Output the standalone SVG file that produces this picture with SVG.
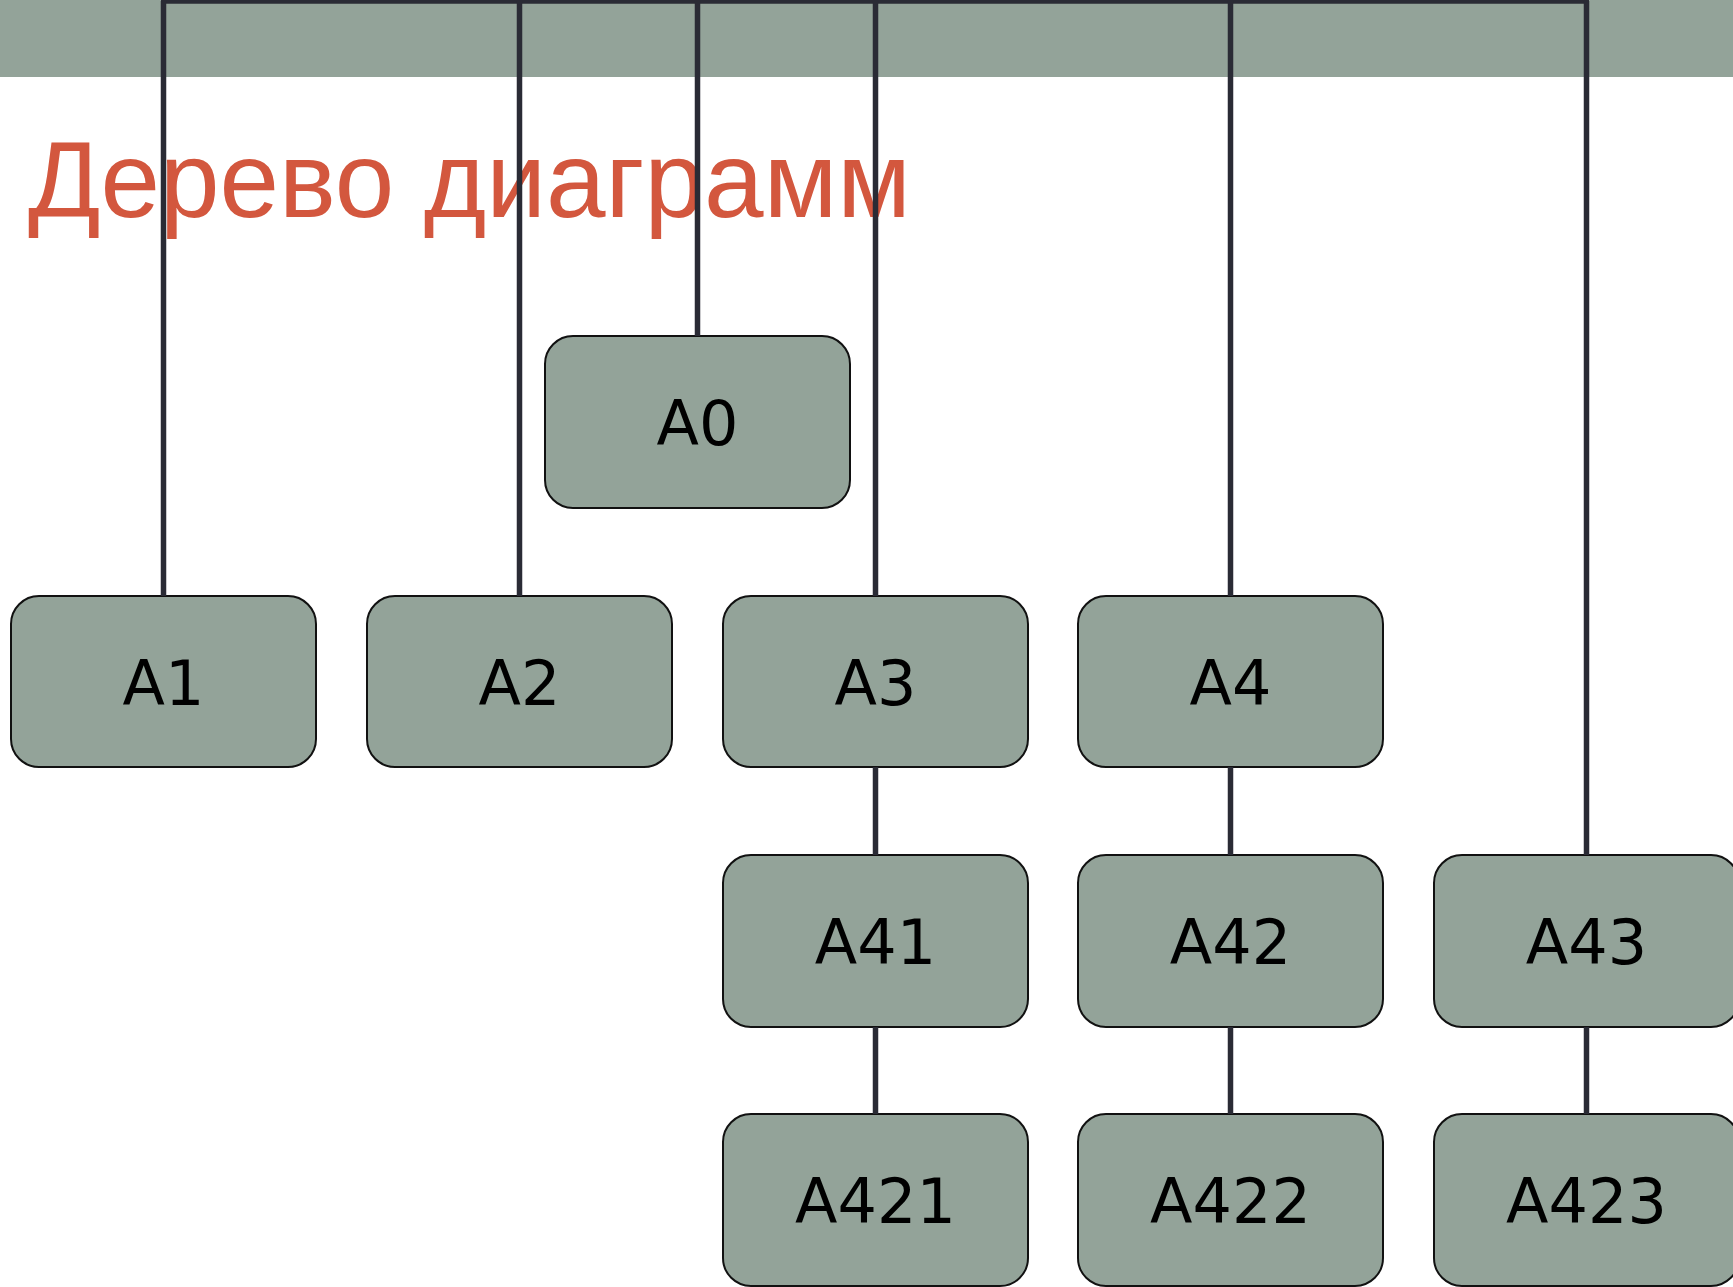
<svg xmlns="http://www.w3.org/2000/svg" width="1733" height="1287" viewBox="0 0 1733 1287">
<style>
.node rect{fill:#93a399;stroke:#111;stroke-width:2}
.node text{font-family:"DejaVu Sans",Verdana,sans-serif;font-size:62px;fill:#000;text-anchor:middle}
.conn line{stroke:#2a2b35;stroke-width:5.5}
.title{font-family:"Liberation Sans",Arial,sans-serif;font-size:107px;fill:#d3573e}
</style>
<rect x="0" y="0" width="1733" height="77" fill="#93a399"/>
<text class="title" x="28" y="217">Дерево диаграмм</text>
<g id="n-A0" class="node"><rect x="545" y="336" width="305" height="172" rx="28"/><text x="697.5" y="445">A0</text></g>
<g id="n-A1" class="node"><rect x="11" y="596" width="305" height="171" rx="28"/><text x="163.5" y="705">A1</text></g>
<g id="n-A2" class="node"><rect x="367" y="596" width="305" height="171" rx="28"/><text x="519.5" y="705">A2</text></g>
<g id="n-A3" class="node"><rect x="723" y="596" width="305" height="171" rx="28"/><text x="875.5" y="705">A3</text></g>
<g id="n-A4" class="node"><rect x="1078" y="596" width="305" height="171" rx="28"/><text x="1230.5" y="705">A4</text></g>
<g id="n-A41" class="node"><rect x="723" y="855" width="305" height="172" rx="28"/><text x="875.5" y="964">A41</text></g>
<g id="n-A42" class="node"><rect x="1078" y="855" width="305" height="172" rx="28"/><text x="1230.5" y="964">A42</text></g>
<g id="n-A43" class="node"><rect x="1434" y="855" width="305" height="172" rx="28"/><text x="1586.5" y="964">A43</text></g>
<g id="n-A421" class="node"><rect x="723" y="1114" width="305" height="172" rx="28"/><text x="875.5" y="1223">A421</text></g>
<g id="n-A422" class="node"><rect x="1078" y="1114" width="305" height="172" rx="28"/><text x="1230.5" y="1223">A422</text></g>
<g id="n-A423" class="node"><rect x="1434" y="1114" width="305" height="172" rx="28"/><text x="1586.5" y="1223">A423</text></g>
<g id="connectors" class="conn">
<line x1="161" y1="1" x2="1589" y2="1"/>
<line x1="697.5" y1="1" x2="697.5" y2="336"/>
<line x1="163.5" y1="1" x2="163.5" y2="596"/>
<line x1="519.5" y1="1" x2="519.5" y2="596"/>
<line x1="875.5" y1="1" x2="875.5" y2="596"/>
<line x1="1230.5" y1="1" x2="1230.5" y2="596"/>
<line x1="1586.5" y1="1" x2="1586.5" y2="855"/>
<line x1="875.5" y1="767" x2="875.5" y2="855"/>
<line x1="1230.5" y1="767" x2="1230.5" y2="855"/>
<line x1="875.5" y1="1027" x2="875.5" y2="1114"/>
<line x1="1230.5" y1="1027" x2="1230.5" y2="1114"/>
<line x1="1586.5" y1="1027" x2="1586.5" y2="1114"/>
</g>
</svg>
